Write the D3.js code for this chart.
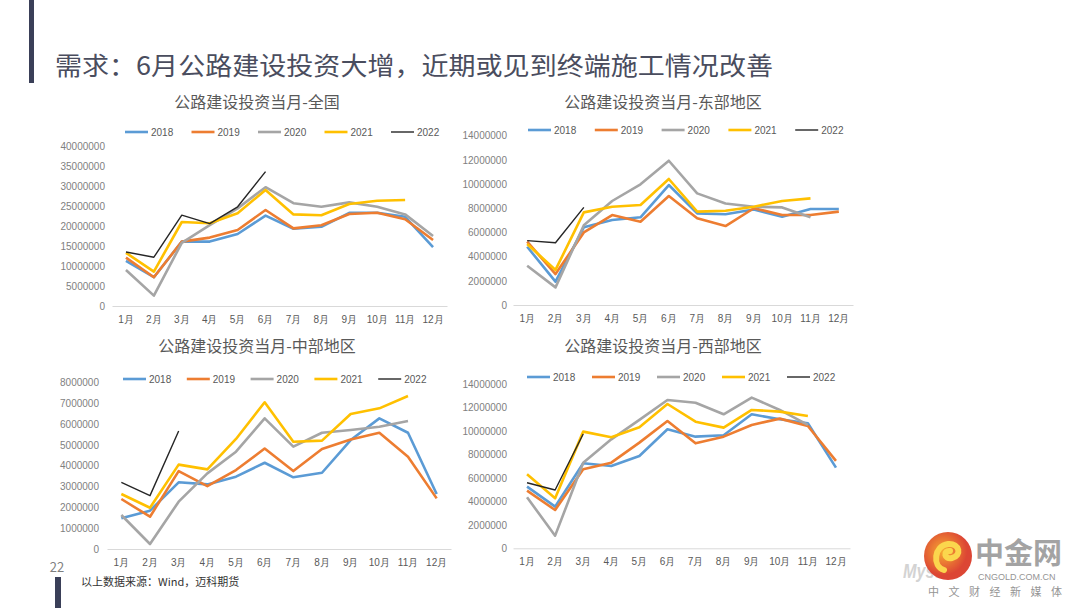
<!DOCTYPE html>
<html>
<head>
<meta charset="utf-8">
<script src="https://cdn.jsdelivr.net/npm/d3@7"></script>
<style>
  html, body { margin: 0; padding: 0; background: #fff; }
  svg { display: block; font-family: "Noto Sans CJK SC", "Noto Sans", sans-serif; }
</style>
</head>
<body>
<svg id="page" width="1080" height="608"></svg>
<script>
// ---- data ----
var months = ["1月", "2月", "3月", "4月", "5月", "6月", "7月", "8月", "9月", "10月", "11月", "12月"];
var years = ["2018", "2019", "2020", "2021", "2022"];
var colors = ["#5B9BD5", "#ED7D31", "#A5A5A5", "#FFC000", "#262626"];

// 全国
var national2018 = [11300000, 7200000, 16100000, 16100000, 18000000, 22600000, 19300000, 19800000, 23300000, 23300000, 22300000, 14700000];
var national2019 = [12100000, 7200000, 16100000, 17100000, 19000000, 24000000, 19400000, 20200000, 23000000, 23300000, 21700000, 16500000];
var national2020 = [9000000, 2600000, 15800000, 20200000, 24400000, 29700000, 25700000, 24800000, 25900000, 24800000, 22900000, 17500000];
var national2021 = [13300000, 8600000, 21000000, 20700000, 23200000, 29000000, 22900000, 22700000, 25500000, 26300000, 26500000];
var national2022 = [13500000, 12200000, 22700000, 20600000, 24800000, 33600000];

// 东部地区
var east2018 = [4820000, 1930000, 6420000, 7030000, 7250000, 9920000, 7580000, 7500000, 7900000, 7300000, 7940000, 7940000];
var east2019 = [5240000, 2560000, 6000000, 7440000, 6890000, 9010000, 7170000, 6530000, 8000000, 7440000, 7440000, 7720000];
var east2020 = [3250000, 1460000, 6600000, 8600000, 9980000, 11930000, 9230000, 8400000, 8130000, 8070000, 7250000];
var east2021 = [5040000, 2900000, 7660000, 8130000, 8270000, 10420000, 7720000, 7800000, 8130000, 8600000, 8820000];
var east2022 = [5320000, 5150000, 8070000];

// 中部地区
var central2018 = [1470000, 1840000, 3200000, 3100000, 3470000, 4140000, 3440000, 3660000, 5230000, 6270000, 5580000, 2640000];
var central2019 = [2400000, 1550000, 3740000, 3020000, 3790000, 4820000, 3740000, 4800000, 5260000, 5580000, 4430000, 2430000];
var central2020 = [1630000, 240000, 2270000, 3630000, 4670000, 6270000, 4910000, 5580000, 5710000, 5870000, 6140000];
var central2021 = [2640000, 1980000, 4050000, 3820000, 5280000, 7040000, 5150000, 5200000, 6480000, 6750000, 7340000];
var central2022 = [3200000, 2560000, 5660000];

// 西部地区
var west2018 = [5260000, 3560000, 7260000, 7030000, 7880000, 10160000, 9530000, 9650000, 11440000, 11010000, 10670000, 6890000];
var west2019 = [4920000, 3270000, 6740000, 7310000, 9020000, 10870000, 8960000, 9530000, 10530000, 11070000, 10440000, 7460000];
var west2020 = [4350000, 1080000, 7310000, 9300000, 10960000, 12660000, 12430000, 11440000, 12860000, 11810000, 10530000];
var west2021 = [6320000, 4270000, 9960000, 9480000, 10330000, 12320000, 10810000, 10300000, 11810000, 11670000, 11300000];
var west2022 = [5600000, 4980000, 9760000];

var titles = ["公路建设投资当月-全国", "公路建设投资当月-东部地区", "公路建设投资当月-中部地区", "公路建设投资当月-西部地区"];
var yMax = [40000000, 14000000, 8000000, 14000000];
var yStep = [5000000, 2000000, 1000000, 2000000];

var svg = d3.select("#page");

// page decorations
svg.append("rect").attr("x", 29).attr("y", 0).attr("width", 5).attr("height", 83).attr("fill", "#3a3f58");
svg.append("rect").attr("x", 55).attr("y", 577).attr("width", 6).attr("height", 31).attr("fill", "#3a3f58");
svg.append("text").attr("x", 55).attr("y", 75)
    .attr("font-size", 25).attr("fill", "#4a4d5e")
    .attr("textLength", 718).attr("lengthAdjust", "spacingAndGlyphs")
    .text("需求：6月公路建设投资大增，近期或见到终端施工情况改善");
svg.append("text").attr("x", 57).attr("y", 572).attr("text-anchor", "middle")
    .attr("font-size", 13).attr("fill", "#7f7f7f").text("22");
svg.append("text").attr("x", 81).attr("y", 586)
    .attr("font-size", 11).attr("fill", "#333").text("以上数据来源：Wind，迈科期货");

function drawChart(cfg) {
    "use strict";

    var g = svg.append("g"),
        x = d3.scaleBand().domain(months).range([cfg.left, cfg.right]),
        y = d3.scaleLinear().domain([0, cfg.max]).range([cfg.bottom, cfg.top]),
        line = d3.line()
            .x(function(d, i) { return x(months[i]) + x.bandwidth() / 2; })
            .y(function(d) { return y(d); });

    g.append("text")
        .attr("x", cfg.titleX).attr("y", cfg.titleY)
        .attr("text-anchor", "middle")
        .attr("font-size", 16).attr("fill", "#595959")
        .text(cfg.title);

    var yAxis = g.append("g")
        .attr("transform", "translate(" + cfg.labelX + ",0)")
        .call(d3.axisLeft(y).tickValues(d3.range(0, cfg.max + 1, cfg.step)).tickSize(0).tickPadding(0).tickFormat(d3.format("d")));
    yAxis.select(".domain").remove();
    yAxis.selectAll("text").attr("font-size", 10).attr("fill", "#7f7f7f")
        .attr("font-family", "'Liberation Sans', Arial, sans-serif");

    var xAxis = g.append("g")
        .attr("transform", "translate(0," + cfg.bottom + ")")
        .call(d3.axisBottom(x).tickSize(0).tickPadding(10));
    xAxis.select(".domain").attr("stroke", "#d9d9d9");
    xAxis.selectAll("text").attr("font-size", 10).attr("fill", "#595959");

    cfg.series.forEach(function(s, i) {
        g.append("path")
            .datum(s)
            .attr("fill", "none")
            .attr("stroke", colors[i])
            .attr("stroke-width", i === 4 ? 1.4 : 2.6)
            .attr("stroke-linejoin", "round")
            .attr("d", line);
    });

    var legend = g.selectAll(".lg").data(years).enter().append("g")
        .attr("transform", function(d, i) { return "translate(" + (cfg.legendX + i * cfg.legendGap) + "," + cfg.legendY + ")"; });
    legend.append("line")
        .attr("x1", 0).attr("x2", 23).attr("y1", 0).attr("y2", 0)
        .attr("stroke", function(d, i) { return colors[i]; })
        .attr("stroke-width", function(d, i) { return i === 4 ? 1.4 : 2.6; });
    legend.append("text")
        .attr("x", 26).attr("y", 3.5)
        .attr("font-size", 10).attr("fill", "#595959")
        .attr("font-family", "'Liberation Sans', Arial, sans-serif")
        .text(function(d) { return d; });
}

drawChart({ title: titles[0], max: yMax[0], step: yStep[0],
    left: 112, right: 447, top: 146, bottom: 306, labelX: 105,
    titleX: 257, titleY: 108, legendX: 125, legendY: 132, legendGap: 66.5,
    series: [national2018, national2019, national2020, national2021, national2022] });

drawChart({ title: titles[1], max: yMax[1], step: yStep[1],
    left: 513, right: 853, top: 135.7, bottom: 305, labelX: 507,
    titleX: 663, titleY: 108, legendX: 528, legendY: 130, legendGap: 66.8,
    series: [east2018, east2019, east2020, east2021, east2022] });

drawChart({ title: titles[2], max: yMax[2], step: yStep[2],
    left: 107, right: 451, top: 382.3, bottom: 549, labelX: 99,
    titleX: 257, titleY: 352, legendX: 123, legendY: 379, legendGap: 63.8,
    series: [central2018, central2019, central2020, central2021, central2022] });

drawChart({ title: titles[3], max: yMax[3], step: yStep[3],
    left: 513, right: 850, top: 384.3, bottom: 548.3, labelX: 507,
    titleX: 663, titleY: 352, legendX: 527, legendY: 377, legendGap: 65,
    series: [west2018, west2019, west2020, west2021, west2022] });

// watermark logo (bottom right)
var logo = svg.append("g").attr("opacity", 0.9);
var grad = svg.append("defs").append("radialGradient").attr("id", "lg1").attr("cx", "40%").attr("cy", "40%");
grad.append("stop").attr("offset", "0%").attr("stop-color", "#f7a21b");
grad.append("stop").attr("offset", "100%").attr("stop-color", "#d9321f");
logo.append("text").attr("x", 903).attr("y", 578).attr("font-size", 20).attr("font-style", "italic")
    .attr("font-weight", "bold").attr("fill", "#cfcfcf").attr("font-family", "'Liberation Sans', Arial")
    .attr("textLength", 46).attr("lengthAdjust", "spacingAndGlyphs").text("Myste");
logo.append("circle").attr("cx", 948).attr("cy", 556).attr("r", 24).attr("fill", "url(#lg1)");
logo.append("path")
    .attr("d", "M944,570 C932,566 934,546 948,544 C960,543 962,556 952,558 C944,560 943,550 950,551")
    .attr("fill", "none").attr("stroke", "#fbd23a").attr("stroke-width", 6).attr("stroke-linecap", "round");
logo.append("text").attr("x", 975).attr("y", 564).attr("font-size", 29).attr("font-weight", "bold")
    .attr("fill", "#9a9a9a").text("中金网");
logo.append("text").attr("x", 978).attr("y", 580).attr("font-size", 9).attr("fill", "#8a8a8a")
    .attr("font-family", "'Liberation Sans', Arial").text("CNGOLD.COM.CN");
logo.append("text").attr("x", 928).attr("y", 596).attr("font-size", 11).attr("fill", "#8a8a8a")
    .attr("textLength", 134).attr("lengthAdjust", "spacing").text("中文财经新媒体");
</script>
</body>
</html>
